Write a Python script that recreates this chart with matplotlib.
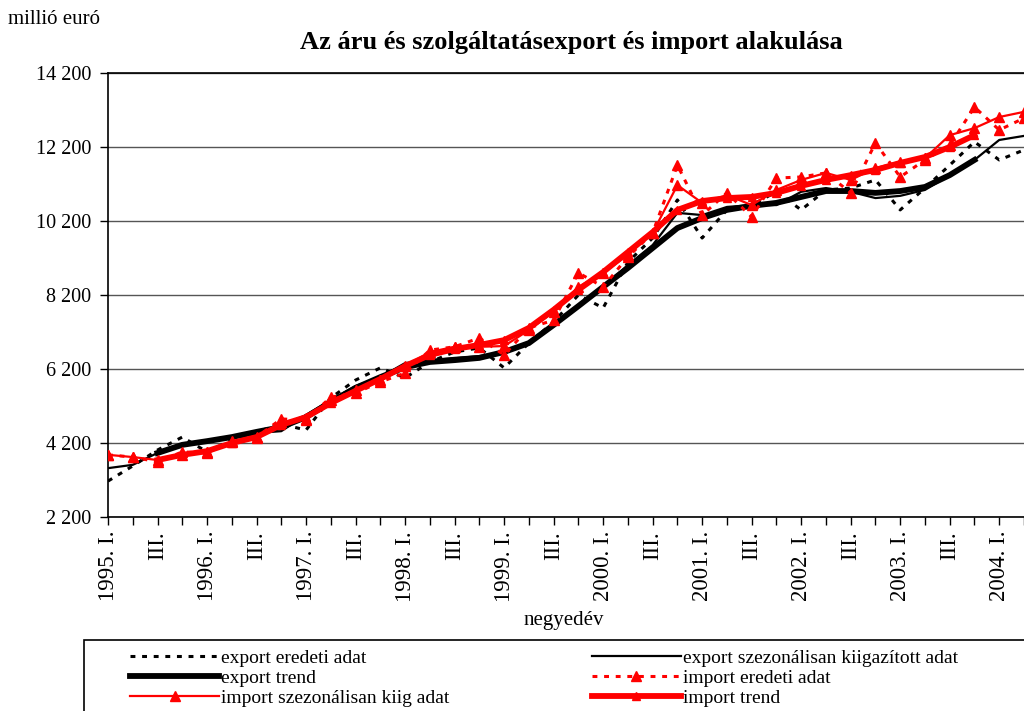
import numpy as np
import matplotlib
matplotlib.use("Agg")
import matplotlib.pyplot as plt
from matplotlib.lines import Line2D
from matplotlib.patches import Rectangle

plt.rcParams["font.family"] = ["Liberation Serif", "DejaVu Serif"]

# quarters 1995 I .. 2004 II
years = list(range(1995, 2005))
n_q = 38

nan = np.nan

export_orig = [3170, 3580, 4010, 4360, 3960, 4280, 4500, 4710, 4550, 5420,
               5900, 6230, 5960, 6390, 6660, 6770, 6230, 6900, 7470, 8200,
               7850, 9090, 9740, 10770, 9740, 10500, 10630, 10990, 10500, 11040,
               11090, 11310, 10500, 11090, 11710, 12340, 11850, 12120]

export_sa = [3520, 3610, 3930, 4120, 4250, 4360, 4470, 4520, 4960, 5360,
             5740, 5980, 6360, 6440, 6500, 6550, 6660, 6880, 7390, 7930,
             8420, 9010, 9550, 10420, 10360, 10580, 10630, 10630, 10990, 11090,
             10990, 10820, 10880, 11040, 11440, 11850, 12390, 12500]

export_trend = [nan, nan, 3930, 4150, 4250, 4360, 4500, 4630, 4900, 5310,
                5690, 5980, 6250, 6390, 6440, 6500, 6660, 6900, 7390, 7900,
                8420, 8930, 9470, 10010, 10280, 10500, 10610, 10690, 10850, 11010,
                11010, 10960, 11010, 11120, 11440, 11850, nan, nan]

import_orig = [3880, 3820, 3690, 3960, 3930, 4250, 4360, 4850, 4820, 5440,
               5550, 5850, 6090, 6710, 6800, 7040, 6580, 7310, 7520, 8800,
               8420, 9230, 9880, 11710, 10360, 10960, 10310, 11360, 11390, 11500,
               10960, 12310, 11390, 11850, 12250, 13280, 12660, 12980]

import_sa = [3880, 3820, 3740, 3880, 3960, 4230, 4340, 4770, 4850, 5360,
             5630, 5900, 6280, 6660, 6800, 6800, 6820, 7250, 7740, 8420,
             8800, 9280, 9880, 11170, 10690, 10900, 10630, 11040, 11310, 11500,
             11310, 11630, 11800, 11900, 12520, 12710, 13010, 13150]

import_trend = [nan, nan, 3740, 3880, 3980, 4200, 4360, 4690, 4900, 5280,
                5610, 5930, 6280, 6580, 6740, 6850, 6980, 7310, 7800, 8340,
                8820, 9360, 9900, 10500, 10740, 10820, 10850, 10960, 11150, 11310,
                11440, 11580, 11770, 11930, 12200, 12520, nan, nan]

y_ticks = [2200, 4200, 6200, 8200, 10200, 12200, 14200]


def quarter_label(i):
    y, q = divmod(i, 4)
    if q == 0:
        return f"{years[y]}. I."
    if q == 2:
        return "III."
    return ""


fig = plt.figure(figsize=(10.24, 7.11), dpi=100)
ax = fig.add_axes([108 / 1024, 1 - 517 / 711, 1 - 108 / 1024, (517 - 73) / 711])

x = np.arange(n_q)
dot = (0, (1.6, 2.2))
red = "#ff0000"

ax.plot(x, export_orig, color="black", lw=2.2, linestyle=dot, zorder=3)
ax.plot(x, export_sa, color="black", lw=1.6, zorder=3)
ax.plot(x, export_trend, color="black", lw=4.2, zorder=3)
ax.plot(x, import_orig, color=red, lw=2.2, linestyle=dot, marker="^",
        markersize=7, zorder=4)
ax.plot(x, import_sa, color=red, lw=1.6, marker="^", markersize=7, zorder=4)
ax.plot(x, import_trend, color=red, lw=4.2, marker="^", markersize=6, zorder=4)

ax.set_xlim(0, 36.64)
ax.set_ylim(2200, 14200)
ax.set_yticks(y_ticks)
ax.set_yticklabels([f"{v:,}".replace(",", " ") for v in y_ticks], fontsize=14.5)
ax.set_xticks(x)
ax.set_xticklabels([quarter_label(i) for i in x], rotation=90, fontsize=16.5,
                   va="top", ha="center")
ax.tick_params(axis="both", direction="out", length=6, width=1, color="black")
ax.tick_params(axis="x", pad=4)
ax.tick_params(axis="y", pad=6)
ax.yaxis.grid(True, color="#555555", lw=1)
ax.set_axisbelow(True)
ax.spines["right"].set_visible(False)
for s in ["left", "top", "bottom"]:
    ax.spines[s].set_linewidth(1.2)

fig.text(8 / 1024, 1 - 20 / 711, "millió euró", fontsize=15, va="center")
fig.text(571 / 1024, 1 - 42 / 711,
         "Az áru és szolgáltatásexport és import alakulása",
         fontsize=19, fontweight="bold", ha="center", va="center")
fig.text(564 / 1024, 1 - 620 / 711, "negyedév", fontsize=15,
         ha="center", va="center")

# legend box (runs off the figure edge like the original)
fig.patches.append(Rectangle((84 / 1024, 0 - 0.05), 1.0, (711 - 640) / 711 + 0.05,
                             transform=fig.transFigure, fill=False,
                             edgecolor="black", lw=1.2))

handles = [
    Line2D([], [], color="black", lw=2.2, linestyle=dot),
    Line2D([], [], color="black", lw=4.2),
    Line2D([], [], color=red, lw=1.6, marker="^", markersize=7),
    Line2D([], [], color="black", lw=1.6),
    Line2D([], [], color=red, lw=2.2, linestyle=dot, marker="^", markersize=7),
    Line2D([], [], color=red, lw=4.2, marker="^", markersize=6),
]
labels = [
    "export eredeti adat",
    "export trend",
    "import szezonálisan kiig adat",
    "export szezonálisan kiigazított adat",
    "import eredeti adat",
    "import trend",
]
fig.legend(handles, labels, loc="upper left",
           bbox_to_anchor=(130 / 1024, 1 - 649 / 711), ncol=2,
           frameon=False, fontsize=14, handlelength=4.6, handletextpad=0.1,
           columnspacing=7.3, labelspacing=0.14, borderpad=0,
           borderaxespad=0, markerfirst=True)

fig.savefig("out.png", dpi=100)
